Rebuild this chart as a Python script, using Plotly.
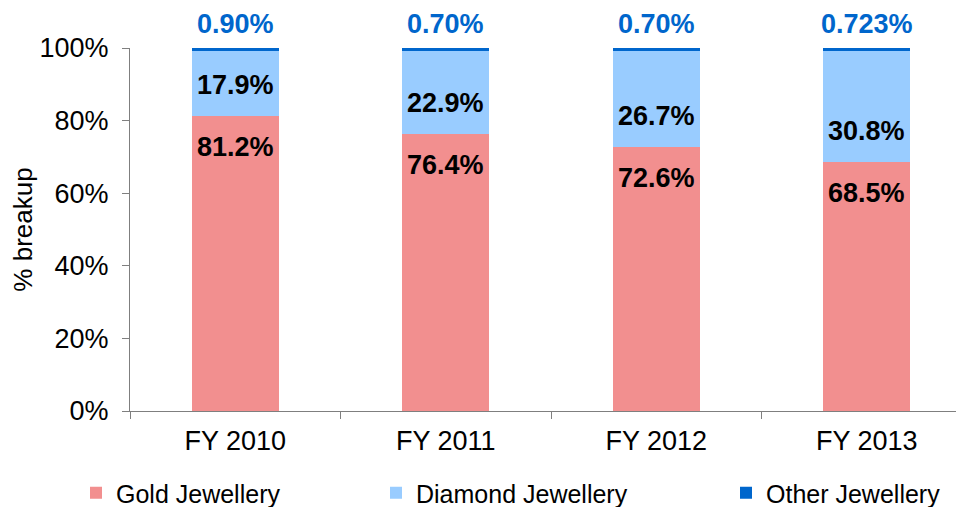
import plotly.graph_objects as go

categories = ["FY 2010", "FY 2011", "FY 2012", "FY 2013"]
gold = [81.2, 76.4, 72.6, 68.5]
diamond = [17.9, 22.9, 26.7, 30.8]
other = [0.90, 0.70, 0.70, 0.723]
other_labels = ["0.90%", "0.70%", "0.70%", "0.723%"]

FONT = "Liberation Sans, Arial, sans-serif"
C_GOLD = "#F28F8F"
C_DIA = "#99CCFF"
C_OTH = "#0066CC"

fig = go.Figure()
fig.add_trace(go.Bar(x=categories, y=gold, name="Gold Jewellery", marker_color=C_GOLD,
                     marker_line_width=0, width=0.413, legend="legend"))
fig.add_trace(go.Bar(x=categories, y=diamond, name="Diamond Jewellery", marker_color=C_DIA,
                     marker_line_width=0, width=0.413, legend="legend2"))
fig.add_trace(go.Bar(x=categories, y=other, name="Other Jewellery", marker_color=C_OTH,
                     marker_line_width=0, width=0.413, legend="legend3"))

annotations = []
for i, c in enumerate(categories):
    annotations.append(dict(x=c, y=gold[i], text=f"<b>{gold[i]:.1f}%</b>", showarrow=False,
                            yshift=-31, font=dict(size=27, color="black", family=FONT)))
    annotations.append(dict(x=c, y=gold[i], text=f"<b>{diamond[i]:.1f}%</b>", showarrow=False,
                            yshift=31, font=dict(size=27, color="black", family=FONT)))
    annotations.append(dict(x=c, y=100, text=f"<b>{other_labels[i]}</b>", showarrow=False,
                            yshift=24, font=dict(size=27, color=C_OTH, family=FONT)))

W, H = 956, 499
legend_common = dict(orientation="h", xref="container", yref="container", yanchor="middle",
                     y=14 / H, bgcolor="rgba(0,0,0,0)",
                     font=dict(size=25, family=FONT, color="black"))

fig.update_layout(
    barmode="stack",
    width=W, height=H,
    margin=dict(l=122, r=0, t=40, b=96, autoexpand=False),
    paper_bgcolor="white", plot_bgcolor="white",
    font=dict(family=FONT, size=25, color="black"),
    bargap=0.587,
    annotations=annotations,
    showlegend=True,
    legend=dict(legend_common, x=68 / W),
    legend2=dict(legend_common, x=368 / W),
    legend3=dict(legend_common, x=718 / W),
    xaxis=dict(range=[-0.5, 3.462], showline=True, linecolor="#7f7f7f", linewidth=1,
               ticks="outside", tickson="boundaries", ticklen=7, tickcolor="#7f7f7f",
               showgrid=False, tickfont=dict(size=27, family=FONT), zeroline=False,
               ticklabelstandoff=6),
    yaxis=dict(range=[0, 100], dtick=20, ticksuffix="%", showline=True, linecolor="#7f7f7f",
               linewidth=1, ticks="outside", ticklen=7, tickcolor="#7f7f7f", showgrid=False,
               zeroline=False, tickfont=dict(size=27, family=FONT), ticklabelstandoff=8,
               title=dict(text="% breakup", font=dict(size=26, family=FONT), standoff=10)),
)

fig.write_html("out.html")
